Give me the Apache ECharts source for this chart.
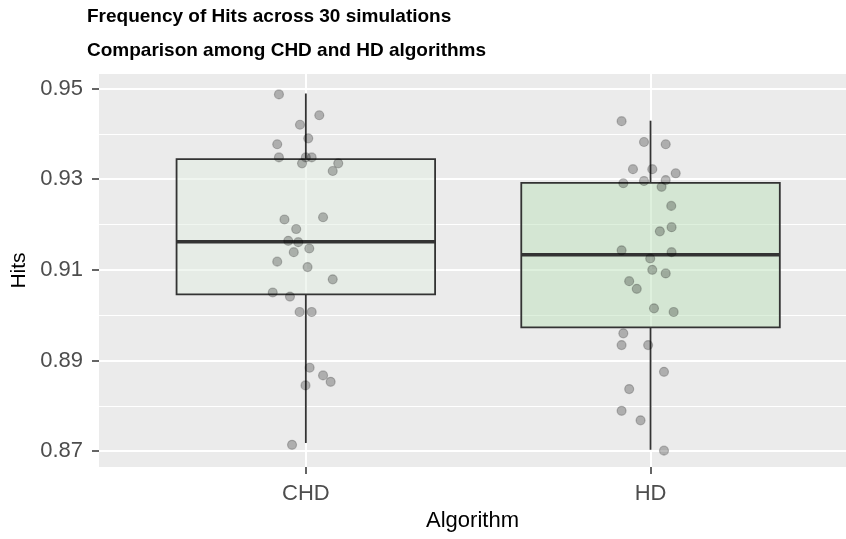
<!DOCTYPE html>
<html>
<head>
<meta charset="utf-8">
<title>Frequency of Hits</title>
<script src="https://cdn.jsdelivr.net/npm/echarts@6/dist/echarts.min.js"></script>
<style>
  html, body { margin: 0; padding: 0; background: #fff; }
  #main { width: 846px; height: 539px; }
</style>
</head>
<body>
<div id="main"></div>
<script>
// categories and tick labels
const algorithms = ['CHD', 'HD'];
const yTicks = [0.87, 0.89, 0.91, 0.93, 0.95];
const yMinorTicks = [0.88, 0.90, 0.92, 0.94];

// box stats: [min, Q1, median, Q3, max]
const chdBox = [0.8718, 0.9046, 0.9162, 0.9344, 0.9489];
const hdBox = [0.8703, 0.8973, 0.9133, 0.9292, 0.9429];

// jittered points: x position (category 1 / 2 plus jitter) and hits
const chdX = [0.922, 1.039, 0.983, 1.007, 0.917, 0.922, 1.000, 1.017, 0.989, 1.094,
              1.078, 0.938, 1.050, 0.972, 0.949, 0.978, 0.965, 1.010, 0.917, 1.005,
              1.078, 0.904, 0.954, 0.982, 1.017, 1.011, 1.050, 1.072, 0.999, 0.960];
const chdHits = [0.9487, 0.9441, 0.9420, 0.9390, 0.9377, 0.9348, 0.9348, 0.9348, 0.9335, 0.9335,
                 0.9318, 0.9211, 0.9216, 0.9190, 0.9164, 0.9161, 0.9139, 0.9147, 0.9118, 0.9106,
                 0.9079, 0.9050, 0.9041, 0.9007, 0.9007, 0.8884, 0.8867, 0.8853, 0.8845, 0.8714];
const hdX = [1.916, 1.981, 2.044, 1.949, 2.005, 2.073, 1.921, 1.981, 2.044, 2.032,
             2.060, 2.061, 2.027, 1.916, 2.061, 1.999, 2.005, 2.044, 1.938, 1.960,
             2.010, 2.067, 1.921, 1.916, 1.993, 2.039, 1.938, 1.916, 1.971, 2.039];
const hdHits = [0.9428, 0.9382, 0.9377, 0.9322, 0.9322, 0.9313, 0.9291, 0.9296, 0.9298, 0.9283,
                0.9241, 0.9194, 0.9185, 0.9143, 0.9139, 0.9125, 0.9100, 0.9092, 0.9075, 0.9058,
                0.9015, 0.9007, 0.8960, 0.8934, 0.8934, 0.8875, 0.8837, 0.8789, 0.8768, 0.8701];

const boxFills = ['rgba(225,237,225,0.5)', 'rgba(189,225,187,0.5)'];
const font = "'Liberation Sans', Arial, sans-serif";

const boxData = [[1].concat(chdBox), [2].concat(hdBox)];
const pointData = chdX.map((x, i) => [x, chdHits[i]])
  .concat(hdX.map((x, i) => [x, hdHits[i]]));

function renderBox(params, api) {
  const x = api.value(0);
  const lo = api.value(1), q1 = api.value(2), med = api.value(3), q3 = api.value(4), hi = api.value(5);
  const half = 0.375;
  const tl = api.coord([x - half, q3]);
  const br = api.coord([x + half, q1]);
  const stroke = { stroke: '#333333', lineWidth: 1.8 };
  return {
    type: 'group',
    children: [
      { type: 'line', shape: { x1: api.coord([x, q3])[0], y1: api.coord([x, q3])[1], x2: api.coord([x, hi])[0], y2: api.coord([x, hi])[1] }, style: stroke },
      { type: 'line', shape: { x1: api.coord([x, q1])[0], y1: api.coord([x, q1])[1], x2: api.coord([x, lo])[0], y2: api.coord([x, lo])[1] }, style: stroke },
      { type: 'rect', shape: { x: tl[0], y: tl[1], width: br[0] - tl[0], height: br[1] - tl[1] },
        style: { fill: boxFills[params.dataIndex], stroke: '#333333', lineWidth: 1.8 } },
      { type: 'line', shape: { x1: api.coord([x - half, med])[0], y1: api.coord([x, med])[1], x2: api.coord([x + half, med])[0], y2: api.coord([x, med])[1] },
        style: { stroke: '#333333', lineWidth: 3.5 } }
    ]
  };
}

const chart = echarts.init(document.getElementById('main'));
chart.setOption({
  animation: false,
  title: [
    { text: 'Frequency of Hits across 30 simulations', left: 87, top: 7, padding: 0,
      textStyle: { fontFamily: font, fontSize: 19, fontWeight: 'bold', color: '#000' } },
    { text: 'Comparison among CHD and HD algorithms', left: 87, top: 41, padding: 0,
      textStyle: { fontFamily: font, fontSize: 19, fontWeight: 'bold', color: '#000' } }
  ],
  grid: { left: 99, right: 0, top: 74, bottom: 72, show: true, backgroundColor: '#EBEBEB', borderWidth: 0 },
  xAxis: {
    type: 'value', min: 0.4, max: 2.567,
    name: 'Algorithm', nameLocation: 'middle', nameGap: 42,
    nameTextStyle: { fontFamily: font, fontSize: 22, color: '#000' },
    axisLine: { show: false },
    axisTick: { show: true, length: 7, customValues: [1, 2], lineStyle: { color: '#333333', width: 1.5 } },
    axisLabel: { customValues: [1, 2], margin: 16, fontFamily: font, fontSize: 22, color: '#4D4D4D',
      formatter: v => algorithms[Math.round(v) - 1] || '' },
    splitLine: { show: true, customValues: [1, 2], lineStyle: { color: '#FFFFFF', width: 2 } }
  },
  yAxis: [
    {
      type: 'value', min: 0.8665, max: 0.9532,
      name: 'Hits', nameLocation: 'middle', nameGap: 62,
      nameTextStyle: { fontFamily: font, fontSize: 21, color: '#000' },
      axisLine: { show: false },
      axisTick: { show: true, length: 7, customValues: yTicks, lineStyle: { color: '#333333', width: 1.5 } },
      axisLabel: { customValues: yTicks, margin: 16, fontFamily: font, fontSize: 22, color: '#4D4D4D',
        formatter: v => v.toFixed(2) },
      splitLine: { show: true, customValues: yTicks, lineStyle: { color: '#FFFFFF', width: 2 } }
    },
    {
      type: 'value', min: 0.8665, max: 0.9532, position: 'left',
      axisLine: { show: false },
      axisTick: { show: false, customValues: yMinorTicks },
      axisLabel: { show: false, customValues: yMinorTicks },
      splitLine: { show: true, customValues: yMinorTicks, lineStyle: { color: '#FFFFFF', width: 1.2 } }
    }
  ],
  series: [
    {
      type: 'custom', name: 'box', renderItem: renderBox, data: boxData,
      encode: { x: 0, y: [1, 2, 3, 4, 5] }, z: 2, silent: true
    },
    {
      type: 'scatter', name: 'points', data: pointData, symbolSize: 9, z: 3, silent: true,
      itemStyle: { color: 'rgba(0,0,0,0.26)', borderColor: 'rgba(0,0,0,0.22)', borderWidth: 1.2, opacity: 1 }
    }
  ]
});
</script>
</body>
</html>
